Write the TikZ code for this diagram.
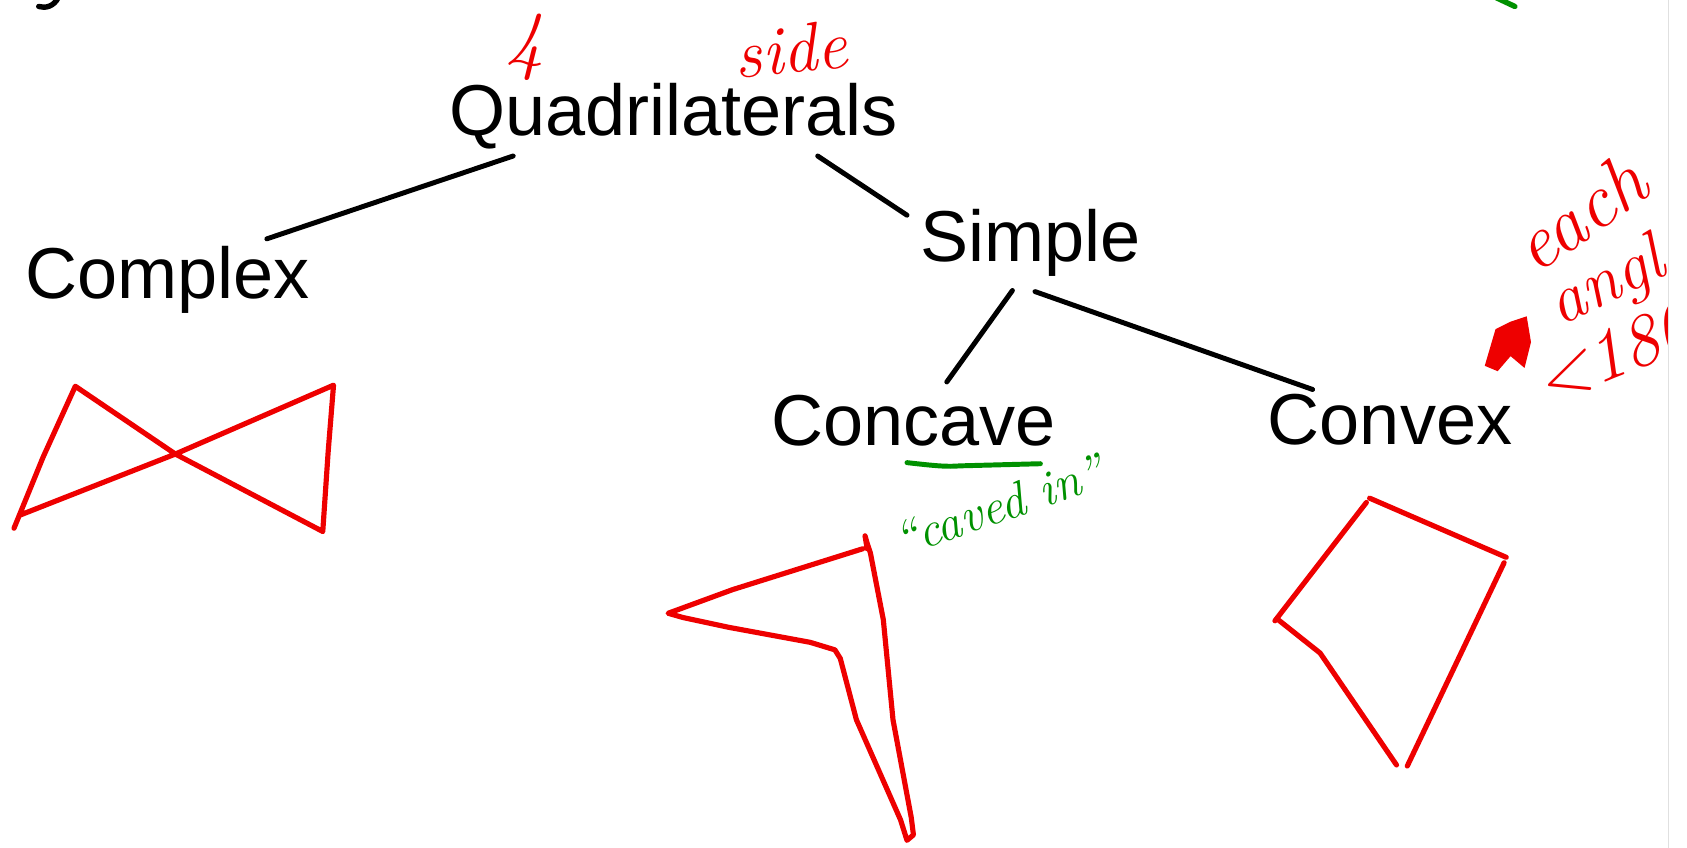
\documentclass[tikz,border=0pt]{standalone}
\usepackage{fontspec}
\newfontfamily\arialfont{Liberation Sans}
\usetikzlibrary{calc}
\definecolor{hred}{RGB}{238,0,0}
\definecolor{hgreen}{RGB}{0,145,0}
\begin{document}
\begin{tikzpicture}[x=0.5pt,y=-0.5pt,
  lbl/.style={font=\arialfont\fontsize{33.5}{40}\selectfont, inner sep=0pt, anchor=base},
  conn/.style={line width=2.3pt, line cap=round, draw=black},
  redink/.style={draw=hred, line width=2.4pt, line cap=round, line join=round},
  greenink/.style={draw=hgreen, line width=2.3pt, line cap=round, line join=round},
  redtxt/.style={text=hred, inner sep=0pt},
  hand/.style={font=\itshape\fontsize{#1}{#1}\selectfont}
]
\fill[white] (0,0) rectangle (1568,788);
\useasboundingbox (0,0) rectangle (1568,788);

% main labels
\node[lbl] (quad) at (626,126) {Quadrilaterals};
\node[lbl] (complex) at (156,277) {Complex};
\node[lbl] (simple) at (958,243) {Simple};
\node[lbl] (concave) at (849,414) {Concave};
\node[lbl] (convex) at (1292,413) {Convex};

% connectors
\draw[conn] ([shift={(-149,19)}]quad.base) -- ([shift={(92,-55)}]complex.base);
\draw[conn] ([shift={(134,19)}]quad.base) -- ([shift={(-115,-43)}]simple.base);
\draw[conn] ([shift={(-17,27)}]simple.base) -- ([shift={(31,-59)}]concave.base);
\draw[conn] ([shift={(4,28)}]simple.base) -- ([shift={(-72,-51)}]convex.base);

% bowtie (complex)
\draw[redink] (13,491) -- (40,425) -- (70,359) -- (163,422) -- (300,494) -- (305,420) -- (310,358) -- (163,422) -- (18,479);

% concave shape
\draw[redink] (802,510) -- (681,548) -- (621,570) -- (635,574) -- (677,583) -- (753,597) -- (776,604) -- (781,612) -- (796,669) -- (837,762) -- (843,781) -- (849,776) -- (847,760) -- (830,669) -- (821,576) -- (809,514) -- (806,505) -- (804,498) -- (806,510);

% convex shape
\draw[redink] (1273,463) -- (1400,518);
\draw[redink] (1398,523) -- (1308,712);
\draw[redink] (1298,711) -- (1227,607) -- (1188,576);
\draw[redink] (1185,577) -- (1270,467);

% green annotations
\draw[greenink] (843,430) .. controls (870,433) and (880,434) .. (892,433) -- (967,431);
\node[text=hgreen, inner sep=0pt, hand=23, rotate=19] (caved) at (928,470) {``caved in''};
\draw[hgreen, line width=2.5pt, line cap=round] (1391,-2) -- (1408,6);

% red annotations
\node[redtxt, hand=36] (four) at (488,44) {4};
\node[redtxt, hand=32, rotate=6] (side) at (735,46) {side};

\begin{scope}
\clip (0,0) rectangle (1551,788);
\node[redtxt, hand=36, rotate=35] (each) at (1468,198) {each};
\node[redtxt, hand=32, rotate=26, anchor=base west] (angle) at (1450,304) {angle};
\node[redtxt, hand=34, rotate=22, anchor=base west] (lt) at (1436,378) {<180};
\fill[hred] (1380,340) -- (1390,306) -- (1404,299) -- (1419,294) -- (1423,318) -- (1417,342) -- (1404,331) -- (1392,345) -- cycle;
\end{scope}

% other marks
\draw[line width=2.5pt, line cap=round] (54,-2) .. controls (50,6) and (42,8) .. (36,6);
\draw[black!12, line width=0.6pt] (1551,0) -- (1551,788);
\end{tikzpicture}
\end{document}
